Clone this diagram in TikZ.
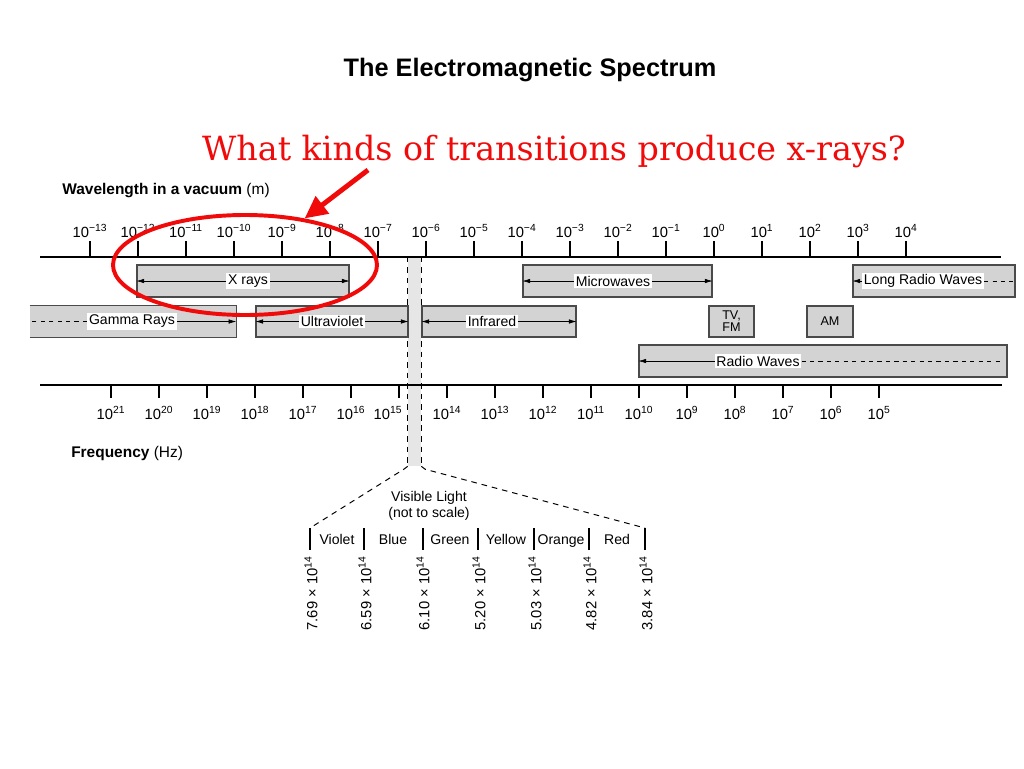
\documentclass[tikz,border=0pt]{standalone}
\usepackage{fontspec}
\setmainfont{Liberation Sans}
\newfontfamily\questionfont{DejaVu Serif}
\usepackage{tikz}
\usetikzlibrary{shapes,arrows,arrows.meta,positioning,calc,fit}
\definecolor{bandgray}{HTML}{D3D3D3}
\definecolor{stripgray}{HTML}{E6E6E6}
\definecolor{edgegray}{HTML}{4A4A4A}
\definecolor{alertred}{HTML}{F00A0A}
\tikzset{
    band/.style={
        draw=edgegray,
        fill=bandgray,
        line width=0.8pt,
        inner sep=0pt
    },
    tag/.style={
        fill=white,
        inner sep=1.2pt,
        font=\fontsize{10}{11.5}\selectfont % label sits on the band line
    },
    axis/.style={line width=1.6pt},
    tick/.style={line width=0.8pt},
    ticklabel/.style={anchor=base, inner sep=0pt, font=\fontsize{10.5}{12}\selectfont},
    stripline/.style={dash pattern=on 4pt off 3.5pt, line width=0.7pt},
    sep/.style={line width=0.8pt},
    freqval/.style={rotate=90, anchor=east, inner sep=0pt, font=\fontsize{10.5}{12}\selectfont},
    ring/.style={ellipse, draw=alertred, line width=2.8pt, minimum width=66mm, minimum height=25mm}
}

\begin{document}
\begin{tikzpicture}[x=0.25mm, y=-0.25mm, >={Latex[length=5.5pt,width=3.2pt]}]
    \useasboundingbox (0,0) rectangle (1024,768);

    % headings
    \node (title) [anchor=base, font=\fontsize{18}{21}\selectfont\bfseries] at (530,76) {The Electromagnetic Spectrum};
    \node (question) [anchor=base, text=alertred, font=\questionfont\fontsize{23.7}{28}\selectfont] at (554,160) {What kinds of transitions produce x-rays?};
    \node (wavename) [anchor=base west, inner sep=0pt, font=\fontsize{11}{13}\selectfont] at (62,194) {\textbf{Wavelength in a vacuum} (m)};
    \node (freqname) [anchor=base west, inner sep=0pt, font=\fontsize{11}{13}\selectfont] at (71,457) {\textbf{Frequency} (Hz)};

    % visible strip
    \node (vis) [fill=stripgray, inner sep=0pt, fit={(408,257) (421,466)}] {};
    \draw [stripline] (vis.north west) -- (vis.south west);
    \draw [stripline] (vis.north east) -- (vis.south east);

    % wavelength axis
    \coordinate (wl) at (40,257);
    \coordinate (wr) at (1001,257);
    \draw [axis] (wl) -- (wr);
    \foreach \e [count=\i from 0] in {−13,−12,−11,−10,−9,−8,−7,−6,−5,−4,−3,−2,−1,0,1,2,3,4} {
        \draw [tick] ({90+48*\i},241) -- ({90+48*\i},257);
        \node (w\i) [ticklabel] at ({90+48*\i},237) {10\textsuperscript{\e}};
    }

    % frequency axis
    \coordinate (fl) at (40,385);
    \coordinate (fr) at (1002,385);
    \draw [axis] (fl) -- (fr);
    \foreach \e [count=\i from 0] in {21,20,...,5} {
        \pgfmathsetmacro\dx{(\e==15)*(-11)}
        \draw [tick] ({111+48*\i},385) -- ({111+48*\i},398);
        \node (f\i) [ticklabel] at ({111+48*\i+\dx},419) {10\textsuperscript{\e}};
    }

    % bands
    \node (xray) [band, fit={(137,265) (349,297)}] {};
    \node (micro) [band, fit={(523,265) (712,297)}] {};
    \node (long) [band, fit={(853,265) (1015,297)}] {};
    \node (gamma) [fill=bandgray, inner sep=0pt, fit={(30,306) (236,337)}] {};
    \draw [draw=edgegray, line width=0.8pt] (gamma.north west) -- (gamma.north east) -- (gamma.south east) -- (gamma.south west);
    \node (uv) [band, fit={(256,306) (408,337)}] {};
    \node (ir) [band, fit={(422,306) (576,337)}] {};
    \node (tvfm) [band, fit={(709,306) (754,337)}] {};
    \node (am) [band, fit={(807,306) (853,337)}] {};
    \node (radio) [band, fit={(639,345) (1007,377)}] {};

    \node (xraylab) [tag] at (248,281) {X rays};
    \node (microlab) [tag] at (613,281) {Microwaves};
    \node (longlab) [tag] at (923,281) {Long Radio Waves};
    \node (gammalab) [tag] at (132,321.5) {Gamma Rays};
    \node (uvlab) [tag] at (332,321.5) {Ultraviolet};
    \node (irlab) [tag] at (492,321.5) {Infrared};
    \node (tvfmlab) [align=center, inner sep=0pt, font=\fontsize{9}{8.5}\selectfont] at (tvfm.center) {TV,\\FM};
    \node (amlab) [inner sep=0pt, font=\fontsize{9}{11}\selectfont] at (am.center) {AM};
    \node (radiolab) [tag] at (758,361) {Radio Waves};

    \draw [->] (xraylab) -- (xray.west);
    \draw [->] (xraylab) -- (xray.east);
    \draw [->] (microlab) -- (micro.west);
    \draw [->] (microlab) -- (micro.east);
    \draw [->] (longlab) -- (long.west);
    \draw [dashed, shorten >=2pt] (longlab) -- (long.east);
    \draw [dashed] (gammalab) -- (gamma.west);
    \draw [->] (gammalab) -- (gamma.east);
    \draw [->] (uvlab) -- (uv.west);
    \draw [->] (uvlab) -- (uv.east);
    \draw [->] (irlab) -- (ir.west);
    \draw [->] (irlab) -- (ir.east);
    \draw [->] (radiolab) -- (radio.west);
    \draw [dashed, shorten >=5pt] (radiolab) -- (radio.east);

    % visible light close-up
    \foreach \x [count=\i from 0] in {310,364,423,478,534,589,645} {
        \coordinate (s\i) at (\x,528);
        \draw [sep] (s\i) -- ++(0,22);
    }
    \draw [stripline] (vis.south west) -- ++(-4,3) -- (s0);
    \draw [stripline] (vis.south east) -- ++(4,3) -- (s6);
    \node (vislab) [align=center, inner sep=0pt, font=\fontsize{10}{11.5}\selectfont] at (429,506) {Visible Light\\(not to scale)};
    \foreach \x/\c [count=\i] in {337/Violet,393/Blue,450/Green,506/Yellow,561/Orange,617/Red} {
        \node (c\i) [anchor=base, font=\fontsize{10}{12}\selectfont, inner sep=0pt] at (\x,544) {\c};
    }
    \foreach \x/\v [count=\i] in {311/7.69,365/6.59,423/6.10,479/5.20,535/5.03,590/4.82,646/3.84} {
        \node (v\i) [freqval] at (\x,556) {\v\ × 10\textsuperscript{14}};
    }

    % question marker
    \node (xring) [ring] at (245,265) {};
    \coordinate (tail) at (368,170);
    \draw [alertred, line width=3.5pt, -{Triangle[length=16pt,width=15pt]}] (tail) -- (xring.38);
\end{tikzpicture}
\end{document}
